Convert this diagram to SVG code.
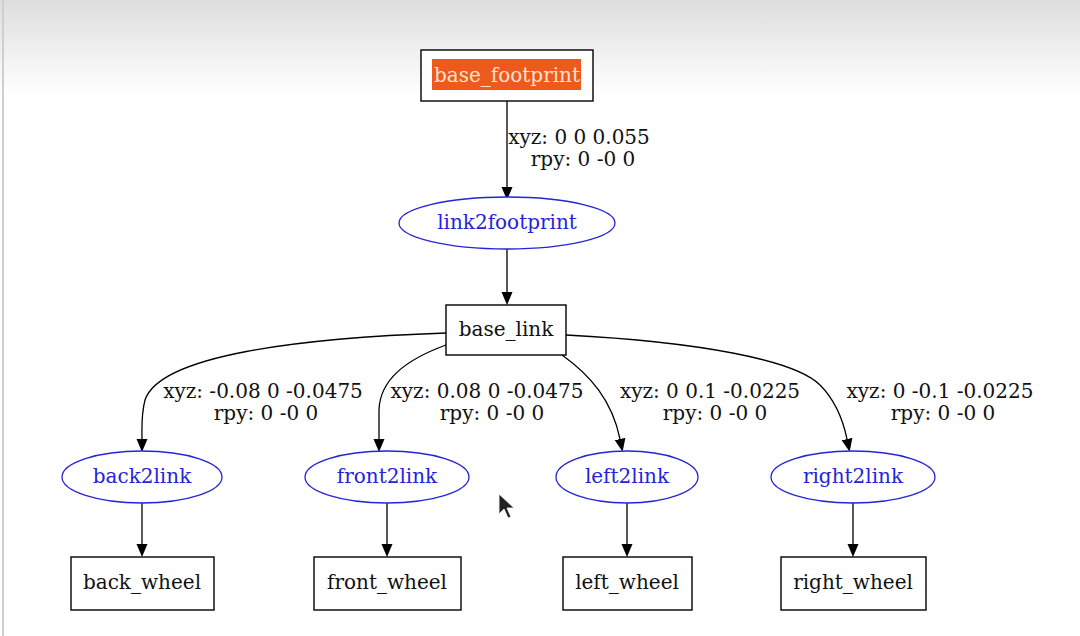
<svg xmlns="http://www.w3.org/2000/svg" width="1080" height="636" viewBox="0 0 1080 636">
<defs>
<linearGradient id="bg" x1="0" y1="0" x2="0" y2="1">
<stop offset="0" stop-color="#dedede"/>
<stop offset="1" stop-color="#ffffff"/>
</linearGradient>
<marker id="arr" markerUnits="userSpaceOnUse" markerWidth="14" markerHeight="14" viewBox="0 0 14 14" refX="0" refY="7" orient="auto">
<path d="M0,1.5 L13,7 L0,12.5 Z" fill="#000"/>
</marker>
<style>
.t{font-family:"DejaVu Serif",serif;font-size:20px;fill:#111;text-anchor:middle}
.b{fill:#2424d8}
.box{fill:#fff;stroke:#000;stroke-width:1.4}
.ell{fill:#fff;stroke:#2424d8;stroke-width:1.3}
.e{fill:none;stroke:#000;stroke-width:1.3;marker-end:url(#arr)}
</style>
</defs>
<rect width="1080" height="636" fill="#fff"/>
<rect width="1080" height="95" fill="url(#bg)"/>
<rect x="2" y="0" width="2" height="636" fill="#cfcfcf"/>
<g id="connectors">
<path class="e" d="M507,101 L507,187"/>
<path class="e" d="M507,249 L507,292"/>
<path class="e" d="M446,333 C300,338 160,355 145,400 C141,415 142,430 142,439"/>
<path class="e" d="M446,345 C405,360 380,380 379,410 L379,439"/>
<path class="e" d="M562,355 C590,375 612,400 620,439"/>
<path class="e" d="M566,335 C700,342 795,360 820,385 C835,400 843,420 847,439"/>
<path class="e" d="M142,503 L142,544"/>
<path class="e" d="M387,503 L387,544"/>
<path class="e" d="M627,503 L627,544"/>
<path class="e" d="M853,503 L853,544"/>
<text class="t" x="579" y="144">xyz: 0 0 0.055</text>
<text class="t" x="583" y="166">rpy: 0 -0 0</text>
<text class="t" x="263" y="398">xyz: -0.08 0 -0.0475</text>
<text class="t" x="266" y="420">rpy: 0 -0 0</text>
<text class="t" x="487" y="398">xyz: 0.08 0 -0.0475</text>
<text class="t" x="492" y="420">rpy: 0 -0 0</text>
<text class="t" x="710" y="398">xyz: 0 0.1 -0.0225</text>
<text class="t" x="715" y="420">rpy: 0 -0 0</text>
<text class="t" x="940" y="398">xyz: 0 -0.1 -0.0225</text>
<text class="t" x="943" y="420">rpy: 0 -0 0</text>
</g>
<g id="base_footprint">
<rect class="box" x="421" y="50" width="172" height="51"/>
<rect x="432" y="59" width="149" height="31" fill="#ee5a1c"/>
<text class="t" x="507" y="82" style="fill:#fbe3d2">base_footprint</text>
</g>
<g id="link2footprint">
<ellipse class="ell" cx="507" cy="223" rx="108" ry="26"/>
<text class="t b" x="507" y="229">link2footprint</text>
</g>
<g id="base_link">
<rect class="box" x="446" y="305" width="120" height="50"/>
<text class="t" x="506" y="336">base_link</text>
</g>
<g id="back2link">
<ellipse class="ell" cx="142" cy="477" rx="80" ry="26"/>
<text class="t b" x="142" y="483">back2link</text>
</g>
<g id="front2link">
<ellipse class="ell" cx="387" cy="477" rx="82" ry="26"/>
<text class="t b" x="387" y="483">front2link</text>
</g>
<g id="left2link">
<ellipse class="ell" cx="627" cy="477" rx="71" ry="26"/>
<text class="t b" x="627" y="483">left2link</text>
</g>
<g id="right2link">
<ellipse class="ell" cx="853" cy="477" rx="82" ry="26"/>
<text class="t b" x="853" y="483">right2link</text>
</g>
<g id="back_wheel">
<rect class="box" x="71" y="557" width="143" height="53"/>
<text class="t" x="142" y="589">back_wheel</text>
</g>
<g id="front_wheel">
<rect class="box" x="314" y="557" width="147" height="53"/>
<text class="t" x="387" y="589">front_wheel</text>
</g>
<g id="left_wheel">
<rect class="box" x="563" y="557" width="129" height="53"/>
<text class="t" x="627" y="589">left_wheel</text>
</g>
<g id="right_wheel">
<rect class="box" x="781" y="557" width="145" height="53"/>
<text class="t" x="853" y="589">right_wheel</text>
</g>
<path d="M499,494 L499,514 L504,509 L508,518 L511,517 L507,508 L514,508 Z" fill="#222" stroke="#fff" stroke-width="0.8"/>
</svg>
